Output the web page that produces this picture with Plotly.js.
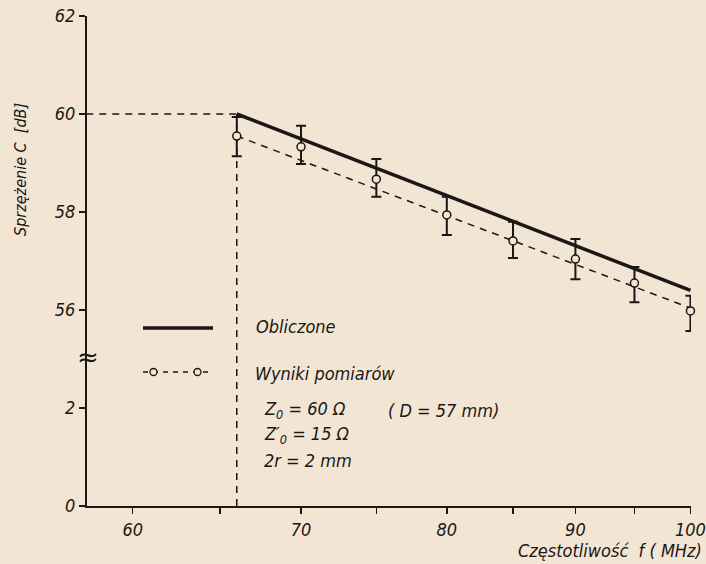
<!DOCTYPE html>
<html><head><meta charset="utf-8">
<script src="https://cdn.plot.ly/plotly-3.0.1.min.js"></script>
<style>html,body{margin:0;padding:0;background:#f2e5d4;}</style>
</head><body>
<div id="chart" style="width:706px;height:564px;"></div>
<script>
// Frequency (MHz) of measurement points
const freqMeas = [66, 70, 75, 80, 85, 90, 95, 100];
// Measured coupling C (dB)
const cMeas = [59.55, 59.33, 58.67, 57.94, 57.41, 57.04, 56.55, 55.98];
const cErrPlus = [0.39, 0.43, 0.41, 0.37, 0.39, 0.41, 0.33, 0.31];
const cErrMinus = [0.41, 0.35, 0.36, 0.41, 0.35, 0.41, 0.39, 0.41];
// Calculated line (Obliczone)
const freqCalc = [66, 100];
const cCalc = [60.0, 56.4];
// Dashed fit through measurements
const freqFit = [66, 100];
const cFit = [59.55, 56.04];
// Reference point
const refFreq = 66, refC = 60;
// Y tick values and labels (broken axis)
const yTickVals = [0, 2, 56, 58, 60, 62];
const yTickText = ['0', '2', '56', '58', '60', '62'];
// X ticks
const xTickVals = [60, 70, 80, 90, 100];
const xTickText = ['60', '70', '80', '90', '100'];
const xMinorVals = [65, 75, 85, 95];

// broken-axis mapping: values >= 50 shifted down so 56 sits right above 2
const ym = v => v >= 50 ? v - 52 : v;

const BG = '#f2e5d4';
const INK = '#1a1714';
const FAM = 'DejaVu Sans Condensed, Liberation Sans Narrow, sans-serif';
const FONT = {family: FAM, size: 18, color: INK, style: 'italic'};

const L = 87, R = 691, T = 16, B = 506;
const px = x => (x - L) / (R - L);
const py = y => (B - y) / (B - T);
const it = s => '<i>' + s + '</i>';

const traces = [
  {x: [refFreq, refFreq], y: [ym(0), ym(refC)], mode: 'lines', line: {color: INK, width: 1.5, dash: '7px,6px'}, hoverinfo: 'skip', showlegend: false},
  {x: [57.5, refFreq], y: [ym(refC), ym(refC)], mode: 'lines', line: {color: INK, width: 1.5, dash: '7px,6px'}, hoverinfo: 'skip', showlegend: false},
  {x: freqFit, y: cFit.map(ym), mode: 'lines', line: {color: INK, width: 1.5, dash: '7px,6px'}, showlegend: false},
  {x: freqCalc, y: cCalc.map(ym), mode: 'lines', line: {color: INK, width: 3.5}, showlegend: false},
  {x: freqMeas, y: cMeas.map(ym), mode: 'markers', cliponaxis: false,
   marker: {symbol: 'circle', size: 8, color: BG, line: {color: INK, width: 1.5}},
   error_y: {type: 'data', symmetric: false, array: cErrPlus, arrayminus: cErrMinus, color: INK, thickness: 2, width: 5},
   showlegend: false}
];

const shapes = [
  {type: 'line', xref: 'paper', yref: 'paper', x0: px(143), x1: px(213), y0: py(328), y1: py(328), line: {color: INK, width: 3.5}},
  {type: 'line', xref: 'paper', yref: 'paper', x0: px(143), x1: px(213), y0: py(372), y1: py(372), line: {color: INK, width: 1.3, dash: '5px,5px'}},
  {type: 'circle', xref: 'paper', yref: 'paper', x0: px(150), x1: px(157), y0: py(368.5), y1: py(375.5), fillcolor: BG, line: {color: INK, width: 1.3}},
  {type: 'circle', xref: 'paper', yref: 'paper', x0: px(194), x1: px(201), y0: py(368.5), y1: py(375.5), fillcolor: BG, line: {color: INK, width: 1.3}}
];

const ann = (x, y, text, extra) => Object.assign({xref: 'paper', yref: 'paper', x: px(x), y: py(y), text: it(text), showarrow: false, xanchor: 'left', yanchor: 'middle', font: FONT}, extra || {});

const annotations = [
  ann(254, 326, 'Obliczone'),
  ann(253, 373, 'Wyniki pomiarów'),
  ann(262, 410, 'Z<sub>0</sub> = 60 Ω'),
  ann(386, 410, '( D = 57 mm)'),
  ann(262, 435, 'Z′<sub>0</sub> = 15 Ω'),
  ann(262, 460, '2r = 2 mm'),
  ann(704, 550, 'Częstotliwość  f ( MHz)', {xanchor: 'right'}),
  ann(20, 170, 'Sprzężenie C  [dB]', {xanchor: 'center', textangle: -90, font: {family: FAM, size: 16, color: INK, style: 'italic'}}),
  ann(88, 357, '≈', {xanchor: 'center', font: {family: 'DejaVu Sans', size: 26, color: INK}})
];

const layout = {
  width: 706, height: 564,
  paper_bgcolor: BG, plot_bgcolor: BG,
  margin: {l: L, r: 706 - R, t: T, b: 564 - B},
  font: FONT,
  showlegend: false,
  xaxis: {
    type: 'log', range: [Math.log10(57.54), Math.log10(100.05)],
    tickvals: xTickVals, ticktext: xTickText,
    ticks: 'outside', ticklen: 6, tickwidth: 1.5, tickcolor: INK,
    minor: {tickvals: xMinorVals, ticks: 'outside', ticklen: 6, tickwidth: 1.5, tickcolor: INK, showgrid: false},
    showline: true, linecolor: INK, linewidth: 2, showgrid: false, zeroline: false,
    tickfont: {family: FAM, size: 18, color: INK, style: 'italic'}
  },
  yaxis: {
    range: [0, 10],
    tickvals: yTickVals.map(ym), ticktext: yTickText,
    ticks: 'outside', ticklen: 6, tickwidth: 1.5, tickcolor: INK,
    showline: true, linecolor: INK, linewidth: 2, showgrid: false, zeroline: false,
    tickfont: {family: FAM, size: 18, color: INK, style: 'italic'}
  },
  shapes: shapes,
  annotations: annotations
};

Plotly.newPlot('chart', traces, layout, {staticPlot: true, displayModeBar: false}).then(gd => {
  gd.querySelectorAll('.xtick text, .ytick text').forEach(t => {
    t.style.setProperty('font-style', 'italic', 'important');
    t.setAttribute('font-style', 'italic');
  });
});
</script>
</body></html>
